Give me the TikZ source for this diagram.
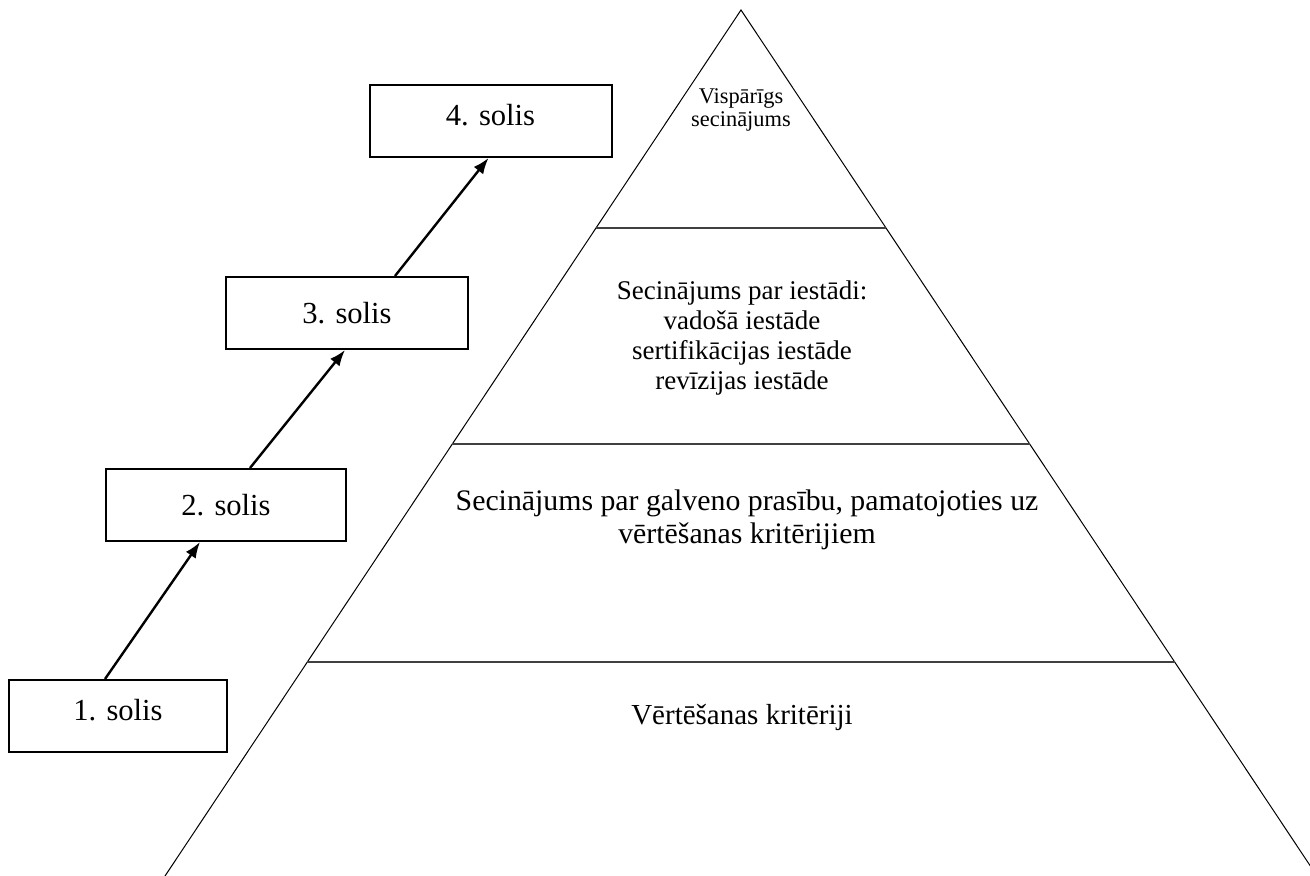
\documentclass[tikz,border=0pt]{standalone}
\usepackage{fontspec}
\setmainfont{Liberation Serif}
\usetikzlibrary{positioning, arrows.meta, calc}

\begin{document}
\begin{tikzpicture}[x=0.5pt, y=-0.5pt,
    every node/.style={inner sep=0pt},
    stepbox/.style={rectangle, draw, line width=1pt, minimum width=121pt, minimum height=36pt, font=\fontsize{15.3}{18}\selectfont},
    layertext/.style={align=center, font=\fontsize{13.5}{15}\selectfont},
    side/.style={line width=0.5pt},
    divider/.style={line width=1pt, black!75},
    arrow/.style={-{Latex[length=8pt, width=6pt]}, line width=1.2pt}]

  \useasboundingbox (0,0) rectangle (1310,876);

  % pyramid
  \coordinate (apex) at (741,10);
  \coordinate (baseL) at (165,876);
  \coordinate (baseR) at (1317,876);
  \draw[side] (baseL) -- (apex) -- (baseR);
  \foreach \t in {0.252, 0.501, 0.753}
    \draw[divider] ($(apex)!\t!(baseL)$) -- ($(apex)!\t!(baseR)$);

  \node[layertext, font=\fontsize{11.2}{11.5}\selectfont] (top) at (741,110) {Vispārīgs\\secinājums};
  \node[layertext] (body) at (742,338) {Secinājums par iestādi:\\vadošā iestāde\\sertifikācijas iestāde\\revīzijas iestāde};
  \node[layertext, font=\fontsize{14.9}{16.5}\selectfont] (claim) at (747,520) {Secinājums par galveno prasību, pamatojoties uz\\vērtēšanas kritērijiem};
  \node[layertext, font=\fontsize{14.5}{16}\selectfont] (crit) at (742,717) {Vērtēšanas kritēriji};

  % steps
  \node[stepbox, minimum width=109pt, text depth=6pt] (s1) at (118,716) {1. solis};
  \node[stepbox, minimum width=120pt] (s2) at (226,505) {2. solis};
  \node[stepbox] (s3) at (347,313) {3. solis};
  \node[stepbox, text depth=6pt] (s4) at (490.5,121) {4. solis};

  \draw[arrow] ([xshift=-6.5pt]s1.north) -- ([xshift=-13pt]s2.south);
  \draw[arrow] ([xshift=12pt]s2.north) -- ([xshift=-1pt]s3.south);
  \draw[arrow] ([xshift=24pt]s3.north) -- ([xshift=-1pt]s4.south);
\end{tikzpicture}
\end{document}
